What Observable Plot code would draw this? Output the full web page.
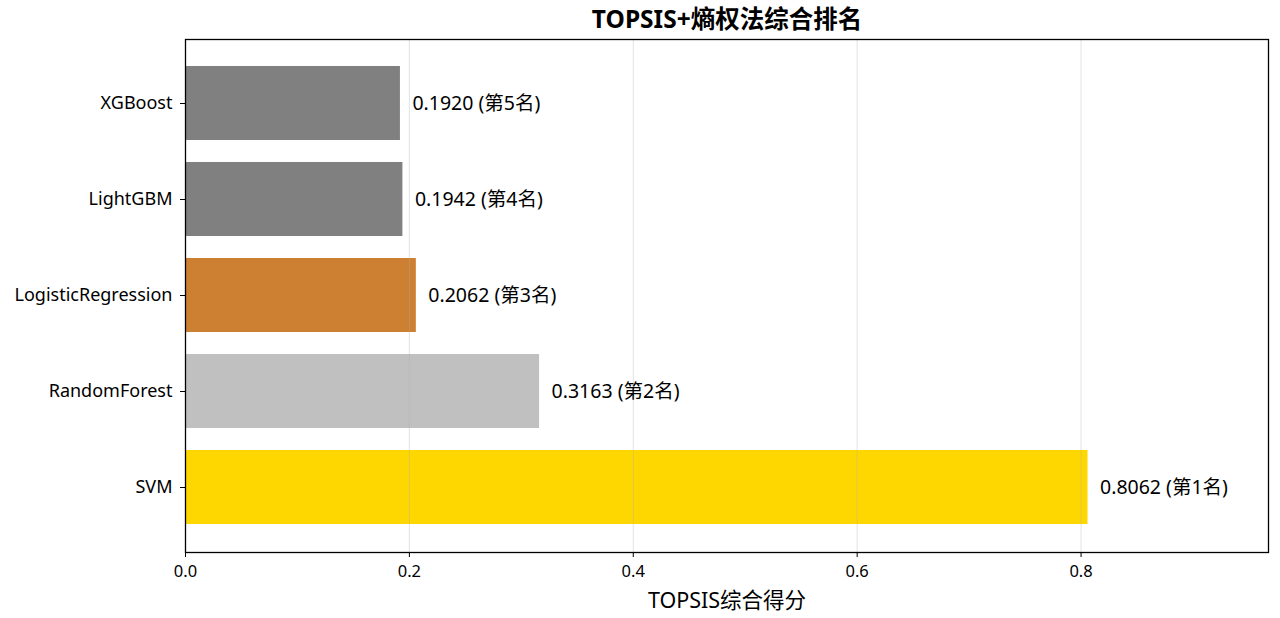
<!DOCTYPE html>
<html>
<head>
<meta charset="utf-8">
<script src="https://cdn.jsdelivr.net/npm/d3@7"></script>
<script src="https://cdn.jsdelivr.net/npm/@observablehq/plot@0.6"></script>
<style>
  html, body { margin: 0; padding: 0; background: #fff; }
  #chart { width: 1280px; height: 618px; }
</style>
</head>
<body>
<div id="chart"></div>
<script>
const models = ["SVM", "RandomForest", "LogisticRegression", "LightGBM", "XGBoost"];
const scores = [0.8062, 0.3163, 0.2062, 0.1942, 0.1920];
const ranks = [1, 2, 3, 4, 5];
const barColors = ["#FFD700", "#C0C0C0", "#CD7F32", "#808080", "#808080"];
const xTicks = [0, 0.2, 0.4, 0.6, 0.8];
const titleText = "TOPSIS+熵权法综合排名";
const xLabel = "TOPSIS综合得分";

const data = models.map((m, i) => ({
  model: m, score: scores[i], rank: ranks[i], color: barColors[i]
}));

const font = "'Noto Sans','Noto Sans CJK SC',sans-serif";

const chart = Plot.plot({
  width: 1280,
  height: 618,
  marginLeft: 185,
  marginRight: 12,
  marginTop: 39,
  marginBottom: 66,
  style: { fontFamily: font, fontSize: "17px", color: "#000", background: "#fff" },
  x: { domain: [0, d3.max(scores) * 1.2] },
  y: { domain: models.slice().reverse(), paddingInner: 0.225, paddingOuter: 0.2575 },
  color: { type: "identity" },
  marks: [
    Plot.barX(data, { x: "score", y: "model", fill: "color", fillOpacity: 1 }),
    Plot.gridX(xTicks, { stroke: "#b0b0b0", strokeOpacity: 0.35, strokeWidth: 1 }),
    Plot.text(data, {
      x: "score", y: "model", dx: 12, textAnchor: "start",
      text: d => `${d.score.toFixed(4)} (第${d.rank}名)`,
      fontSize: 19.5, fill: "#000"
    }),
    Plot.axisX({ ticks: xTicks, tickFormat: d3.format(".1f"), tickSize: 5, tickPadding: 8, label: null, fontSize: 16.5 }),
    Plot.axisY({ tickSize: 5, tickPadding: 8, label: null, fontSize: 18 }),
    Plot.frame({ stroke: "#000", strokeWidth: 1.3 }),
    Plot.text([titleText], { frameAnchor: "top", dy: -19, lineAnchor: "middle", fontWeight: "bold", fontSize: 24.5, fill: "#000" }),
    Plot.text([xLabel], { frameAnchor: "bottom", dy: 49, lineAnchor: "middle", fontSize: 21.5, fill: "#000" })
  ]
});

document.getElementById("chart").appendChild(chart);
</script>
</body>
</html>
